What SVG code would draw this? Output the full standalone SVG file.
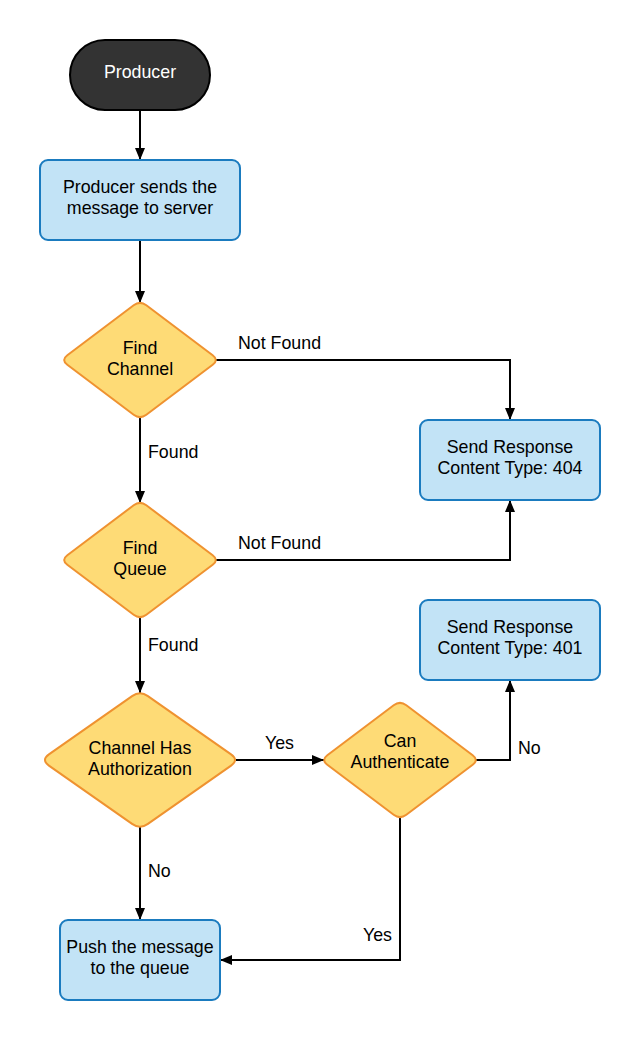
<svg xmlns="http://www.w3.org/2000/svg" width="640" height="1040" viewBox="0 0 640 1040">
<defs>
<marker id="arr" viewBox="0 0 12 10" refX="12" refY="5" markerWidth="12" markerHeight="10" markerUnits="userSpaceOnUse" orient="auto">
<path d="M0,0 L12,5 L0,10 Z" fill="#000"/>
</marker>
<style>
text{font-family:"Liberation Sans",Arial,sans-serif;font-size:17.8px;fill:#000;}
.c{text-anchor:middle;}
.box{fill:#c2e3f6;stroke:#1a7bbf;stroke-width:2;}
.dia{fill:#fedb76;stroke:#ef9230;stroke-width:2;}
.ln{fill:none;stroke:#000;stroke-width:2;marker-end:url(#arr);}
</style>
</defs>
<rect width="640" height="1040" fill="#fff"/>
<g id="connectors">
<path class="ln" d="M140,110 L140,160"/>
<path class="ln" d="M140,240 L140,303"/>
<path class="ln" d="M216,360 L510,360 L510,420"/>
<path class="ln" d="M140,417 L140,503"/>
<path class="ln" d="M216,560 L510,560 L510,500"/>
<path class="ln" d="M140,617 L140,693"/>
<path class="ln" d="M236,760 L324,760"/>
<path class="ln" d="M476,760 L510,760 L510,680"/>
<path class="ln" d="M140,827 L140,920"/>
<path class="ln" d="M400,817 L400,960 L220,960"/>
<text x="238" y="349">Not Found</text>
<text x="148" y="458">Found</text>
<text x="238" y="549">Not Found</text>
<text x="148" y="651">Found</text>
<text x="265" y="749">Yes</text>
<text x="518" y="754">No</text>
<text x="148" y="877">No</text>
<text x="363" y="941">Yes</text>
</g>
<g id="producer">
<rect x="70" y="40" width="140" height="70" rx="35" fill="#333" stroke="#000" stroke-width="2"/>
<text class="c" x="140" y="78" style="fill:#fff">Producer</text>
</g>
<g id="sends">
<rect class="box" x="40" y="160" width="200" height="80" rx="8"/>
<text class="c" x="140" y="193">Producer sends the</text>
<text class="c" x="140" y="214">message to server</text>
</g>
<g id="findChannel">
<path class="dia" d="M146.32,305.26 L212.68,355.24 Q219,360 212.68,364.76 L146.32,414.74 Q140,419.5 133.68,414.74 L67.32,364.76 Q61,360 67.32,355.24 L133.68,305.26 Q140,300.5 146.32,305.26 Z"/>
<text class="c" x="140" y="354">Find</text>
<text class="c" x="140" y="375">Channel</text>
</g>
<g id="resp404">
<rect class="box" x="420" y="420" width="180" height="80" rx="8"/>
<text class="c" x="510" y="453">Send Response</text>
<text class="c" x="510" y="474">Content Type: 404</text>
</g>
<g id="findQueue">
<path class="dia" d="M146.32,505.26 L212.68,555.24 Q219,560 212.68,564.76 L146.32,614.74 Q140,619.5 133.68,614.74 L67.32,564.76 Q61,560 67.32,555.24 L133.68,505.26 Q140,500.5 146.32,505.26 Z"/>
<text class="c" x="140" y="554">Find</text>
<text class="c" x="140" y="575">Queue</text>
</g>
<g id="resp401">
<rect class="box" x="420" y="600" width="180" height="80" rx="8"/>
<text class="c" x="510" y="633">Send Response</text>
<text class="c" x="510" y="654">Content Type: 401</text>
</g>
<g id="hasAuth">
<path class="dia" d="M147.92,696.06 L231.08,754.44 Q239,760 231.08,765.56 L147.92,823.94 Q140,829.5 132.08,823.94 L48.92,765.56 Q41,760 48.92,754.44 L132.08,696.06 Q140,690.5 147.92,696.06 Z"/>
<text class="c" x="140" y="754">Channel Has</text>
<text class="c" x="140" y="775">Authorization</text>
</g>
<g id="canAuth">
<path class="dia" d="M406.32,705.26 L472.68,755.24 Q479,760 472.68,764.76 L406.32,814.74 Q400,819.5 393.68,814.74 L327.32,764.76 Q321,760 327.32,755.24 L393.68,705.26 Q400,700.5 406.32,705.26 Z"/>
<text class="c" x="400" y="747">Can</text>
<text class="c" x="400" y="768">Authenticate</text>
</g>
<g id="push">
<rect class="box" x="60" y="920" width="160" height="80" rx="8"/>
<text class="c" x="140" y="953">Push the message</text>
<text class="c" x="140" y="974">to the queue</text>
</g>
</svg>
